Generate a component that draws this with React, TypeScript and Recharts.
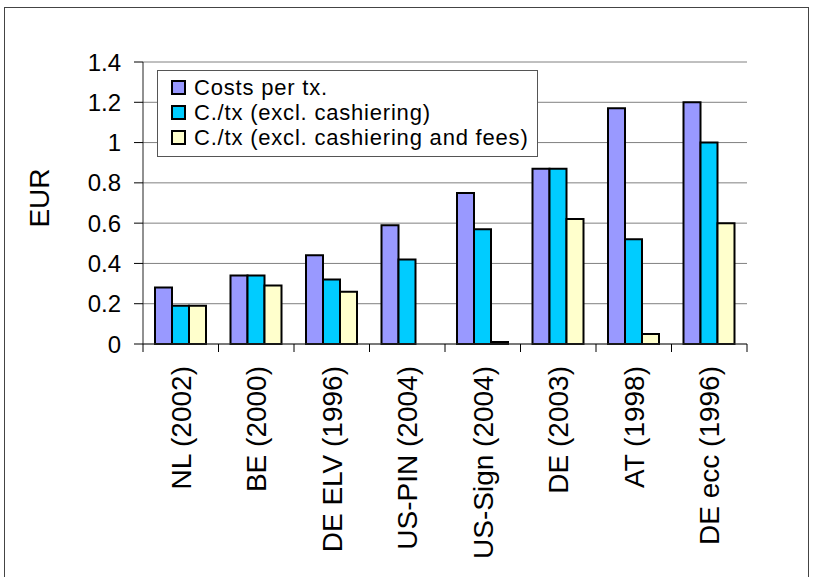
import React from 'react';
import { BarChart, Bar, XAxis, YAxis, CartesianGrid, Legend } from 'recharts';

// Payment instrument cost per transaction (EUR)
const categories = [
  'NL (2002)',
  'BE (2000)',
  'DE ELV (1996)',
  'US-PIN (2004)',
  'US-Sign (2004)',
  'DE (2003)',
  'AT (1998)',
  'DE ecc (1996)',
];
const costsPerTx = [0.28, 0.34, 0.44, 0.59, 0.75, 0.87, 1.17, 1.2];
const exclCashiering = [0.19, 0.34, 0.32, 0.42, 0.57, 0.87, 0.52, 1.0];
const exclCashieringAndFees = [0.19, 0.29, 0.26, 0, 0.01, 0.62, 0.05, 0.6];
const yTicks = [0, 0.2, 0.4, 0.6, 0.8, 1, 1.2, 1.4];

const seriesKeys = ['costs', 'exclCash', 'exclCashFees'];
const seriesNames = [
  'Costs per tx.',
  'C./tx (excl. cashiering)',
  'C./tx (excl. cashiering and fees)',
];
const seriesColors = ['#9999FF', '#00CCFF', '#FFFFCC'];

const data = categories.map((name, i) => ({
  name,
  costs: costsPerTx[i],
  exclCash: exclCashiering[i],
  exclCashFees: exclCashieringAndFees[i],
}));

const FONT = '"Liberation Sans", Arial, sans-serif';
const CHART_W = 814;
const CHART_H = 577;
const MARGIN = { top: 62, right: 67, left: 0, bottom: 0 };
const Y_AXIS_W = 143;
const X_AXIS_H = 233;
const BAND = (CHART_W - MARGIN.right - MARGIN.left - Y_AXIS_W) / categories.length;

// Category label, rotated, plus tick marks at the category boundaries
const CategoryTick = (props: any) => {
  const { x, y, payload, index } = props;
  const half = payload && typeof payload.offset === 'number' && payload.offset > 0 ? payload.offset : BAND / 2;
  const idx = typeof index === 'number' ? index : payload.index;
  const isLast = idx === categories.length - 1;
  const ty = y + 22;
  return (
    <g>
      <line x1={x - half} y1={y} x2={x - half} y2={y + 8} stroke="#000" strokeWidth={1} />
      {isLast && <line x1={x + half} y1={y} x2={x + half} y2={y + 8} stroke="#000" strokeWidth={1} />}
      <text
        x={x}
        y={ty}
        transform={`rotate(-90 ${x} ${ty})`}
        textAnchor="end"
        dy="0.35em"
        fontSize={28}
        fontFamily={FONT}
        fill="#000"
      >
        {payload.value}
      </text>
    </g>
  );
};

const LegendBox = () => (
  <div
    style={{
      border: '1px solid #555',
      background: '#fff',
      width: '100%',
      height: '100%',
      boxSizing: 'border-box',
      padding: '4px 0 0 13px',
      fontFamily: FONT,
    }}
  >
    {seriesNames.map((n, i) => (
      <div key={n} style={{ display: 'flex', alignItems: 'center', height: 25 }}>
        <span
          style={{
            display: 'inline-block',
            width: 15,
            height: 15,
            boxSizing: 'border-box',
            border: '2px solid #000',
            background: seriesColors[i],
            marginRight: 8,
            flex: 'none',
          }}
        />
        <span style={{ fontSize: 22, letterSpacing: 0.8, color: '#000', lineHeight: '25px', whiteSpace: 'nowrap' }}>
          {n}
        </span>
      </div>
    ))}
  </div>
);

export default function App() {
  return (
    <>
      <div
        style={{
          position: 'absolute',
          left: 4,
          top: 7,
          width: 805,
          height: 570,
          boxSizing: 'border-box',
          border: '1px solid #444',
          borderBottom: 'none',
        }}
      />
      <div style={{ position: 'absolute', left: 0, top: 0, width: CHART_W, height: CHART_H }}>
        <BarChart
          width={CHART_W}
          height={CHART_H}
          data={data}
          margin={MARGIN}
          barGap={0}
          barCategoryGap={12}
        >
          <CartesianGrid yAxisId="left" vertical={false} stroke="#808080" strokeWidth={1} />
          <XAxis
            dataKey="name"
            height={X_AXIS_H}
            interval={0}
            tickLine={false}
            tickSize={0}
            tickMargin={0}
            axisLine={{ stroke: '#333', strokeWidth: 1 }}
            tick={<CategoryTick />}
          />
          <YAxis
            yAxisId="left"
            width={Y_AXIS_W}
            domain={[0, 1.4]}
            ticks={yTicks}
            interval={0}
            tickSize={9}
            tickMargin={13}
            tickLine={{ stroke: '#000' }}
            axisLine={{ stroke: '#222', strokeWidth: 1 }}
            tick={{ fill: '#000', fontSize: 24, fontFamily: FONT }}
            label={{
              content: () => (
                <text
                  x={39}
                  y={198}
                  transform="rotate(-90 39 198)"
                  textAnchor="middle"
                  dy="0.35em"
                  fontSize={28}
                  fontFamily={FONT}
                  fill="#000"
                >
                  EUR
                </text>
              ),
            }}
          />
          <YAxis
            yAxisId="frame"
            orientation="right"
            width={0}
            tick={false}
            tickLine={false}
            axisLine={{ stroke: '#888', strokeWidth: 2 }}
          />
          <Legend
            layout="vertical"
            align="center"
            verticalAlign="middle"
            width={381}
            height={87}
            wrapperStyle={{ left: 157, top: 70, width: 381, height: 87 }}
            content={<LegendBox />}
          />
          {seriesKeys.map((k, i) => (
            <Bar
              key={k}
              yAxisId="left"
              dataKey={k}
              name={seriesNames[i]}
              fill={seriesColors[i]}
              stroke="#000"
              strokeWidth={2}
              isAnimationActive={false}
            />
          ))}
        </BarChart>
      </div>
    </>
  );
}
